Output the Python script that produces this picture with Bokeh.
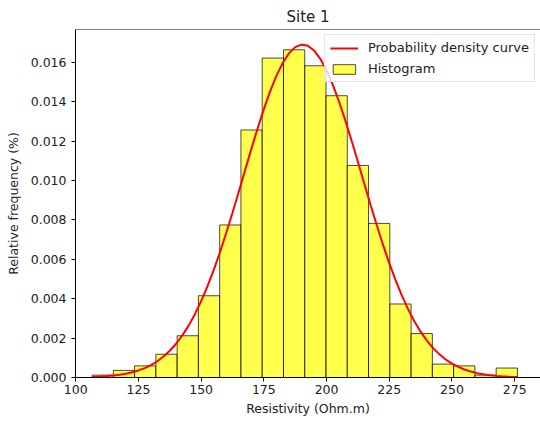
from bokeh.plotting import figure
from bokeh.models import Range1d, FixedTicker, NumeralTickFormatter, Legend, LegendItem, Span
from bokeh.embed import file_html
from bokeh.resources import INLINE

# Histogram bin edges (Ohm.m) and relative frequencies (density)
bin_edges = [106.5, 114.98, 123.46, 131.94, 140.42, 148.9, 157.38, 165.86, 174.34,
             182.82, 191.3, 199.78, 208.26, 216.74, 225.22, 233.7, 242.18, 250.66,
             259.14, 267.62, 276.1]
hist_values = [0.00012, 0.00036, 0.00059, 0.00118, 0.00212, 0.00415, 0.00774, 0.01256,
               0.01621, 0.01663, 0.01582, 0.01430, 0.01076, 0.00782, 0.00373, 0.00223,
               0.00068, 0.00059, 0.00012, 0.00048]

# Probability density curve
curve_x = [106.5, 110, 112.5, 115, 117.5, 120, 122.5, 125, 127.5, 130, 132.5, 135,
           137.5, 140, 142.5, 145, 147.5, 150, 152.5, 155, 157.5, 160, 162.5, 165,
           167.5, 170, 172.5, 175, 177.5, 180, 182.5, 185, 187.5, 190, 192.5, 195,
           197.5, 200, 202.5, 205, 207.5, 210, 212.5, 215, 217.5, 220, 222.5, 225,
           227.5, 230, 232.5, 235, 237.5, 240, 242.5, 245, 247.5, 250, 252.5, 255,
           257.5, 260, 262.5, 265, 267.5, 270, 272.5, 276.1]
curve_y = [0.000030, 0.000050, 0.0000718, 0.000101, 0.0001414, 0.000195, 0.000266,
           0.000359, 0.000479, 0.000632, 0.000825, 0.001064, 0.001357, 0.001713,
           0.002136, 0.002633, 0.003214, 0.003875, 0.004623, 0.005452, 0.006358,
           0.007333, 0.008360, 0.009427, 0.010511, 0.011588, 0.012635, 0.013621,
           0.014521, 0.015308, 0.015956, 0.016447, 0.016764, 0.016896, 0.016839,
           0.016596, 0.016173, 0.015585, 0.014851, 0.013993, 0.013038, 0.012012,
           0.010945, 0.009859, 0.008783, 0.007737, 0.006740, 0.005805, 0.004945,
           0.004165, 0.003468, 0.002856, 0.002326, 0.001873, 0.001491, 0.001175,
           0.000914, 0.000704, 0.000536, 0.000404, 0.000300, 0.000221, 0.000161,
           0.000116, 0.0000825, 0.000058, 0.0000404, 0.0000235]

x_ticks = [100, 125, 150, 175, 200, 225, 250, 275]
y_ticks = [0.0, 0.002, 0.004, 0.006, 0.008, 0.010, 0.012, 0.014, 0.016]

FONT = "DejaVu Sans"
Y_TOP = 0.01766

p = figure(width=540, height=423, output_backend="svg", toolbar_location=None,
           x_range=Range1d(99.9, 285.3), y_range=Range1d(0, Y_TOP),
           min_border_left=75, min_border_right=0, min_border_top=29,
           min_border_bottom=46)

p.xgrid.visible = False
p.ygrid.visible = False
p.outline_line_color = None
p.background_fill_color = "white"
p.border_fill_color = "white"

# top spine (right spine is cut off in the reference)
p.add_layout(Span(location=Y_TOP, dimension="width", line_color="black", line_width=1))

bars = p.quad(left=bin_edges[:-1], right=bin_edges[1:], top=hist_values, bottom=0,
              fill_color="yellow", fill_alpha=0.7, line_color="black", line_alpha=0.7,
              line_width=1)
curve = p.line(curve_x, curve_y, line_color="red", line_width=2)

legend = Legend(items=[LegendItem(label="Probability density curve", renderers=[curve]),
                       LegendItem(label="Histogram", renderers=[bars])],
                location="top_right")
legend.label_text_font = FONT
legend.label_text_font_size = "13px"
legend.label_text_color = "#222222"
legend.glyph_width = 28
legend.glyph_height = 12
legend.label_height = 14
legend.label_standoff = 10
legend.spacing = 6
legend.padding = 5
legend.margin = 5
legend.border_line_color = "#cccccc"
legend.border_line_width = 1
legend.background_fill_alpha = 0.8
p.add_layout(legend)

p.title.text = "Site 1"
p.title.align = "center"
p.title.text_font = FONT
p.title.text_font_size = "15px"
p.title.text_font_style = "normal"
p.title.text_color = "#222222"
p.title.standoff = 7

for ax in (p.xaxis[0], p.yaxis[0]):
    ax.axis_line_color = "black"
    ax.major_tick_line_color = "black"
    ax.major_tick_in = 0
    ax.major_tick_out = 4
    ax.minor_tick_line_color = None
    ax.major_label_text_font = FONT
    ax.major_label_text_font_size = "12.5px"
    ax.major_label_text_color = "#222222"
    ax.axis_label_text_font = FONT
    ax.axis_label_text_font_size = "12.5px"
    ax.axis_label_text_font_style = "normal"
    ax.axis_label_text_color = "#222222"

p.xaxis.ticker = FixedTicker(ticks=x_ticks)
p.yaxis.ticker = FixedTicker(ticks=y_ticks)
p.yaxis.formatter = NumeralTickFormatter(format="0.000")
p.xaxis.axis_label = "Resistivity (Ohm.m)"
p.yaxis.axis_label = "Relative frequency (%)"
p.xaxis.major_label_standoff = 3
p.xaxis.axis_label_standoff = 4
p.yaxis.major_label_standoff = 5
p.yaxis.axis_label_standoff = 7

open("out.html", "w").write(file_html(p, INLINE))
